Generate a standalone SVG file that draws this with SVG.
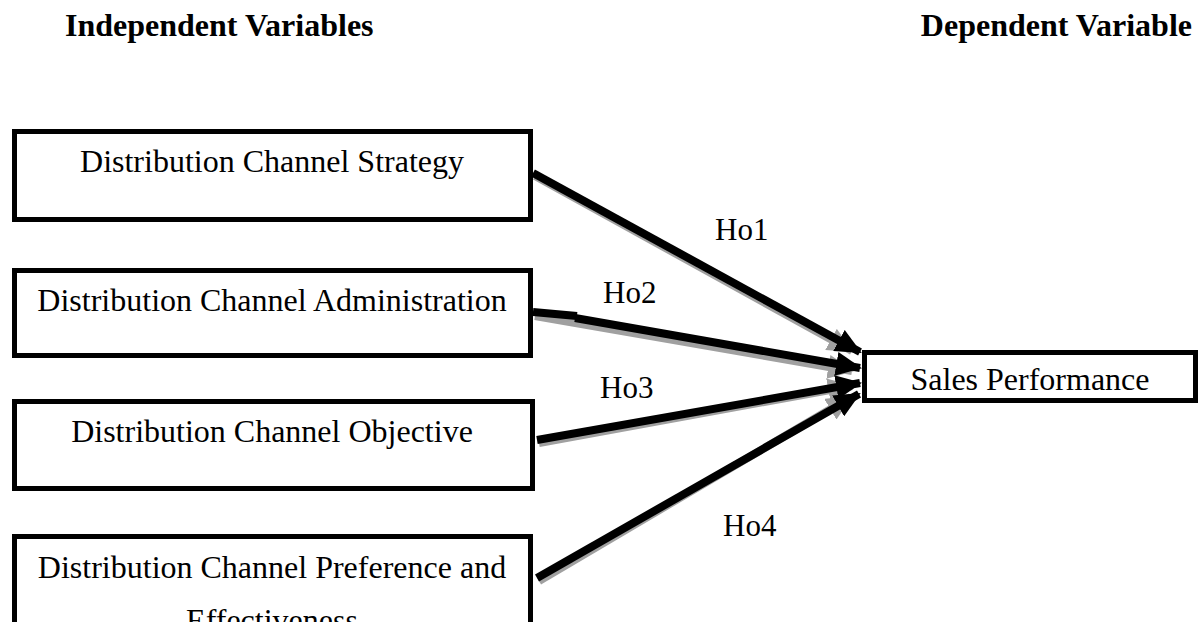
<svg xmlns="http://www.w3.org/2000/svg" width="1199" height="622" viewBox="0 0 1199 622">
<style>
text{font-family:"Liberation Serif","Times New Roman",serif;font-size:32px;fill:#000}
.h{font-weight:bold}
.lb{font-size:31px}
.box{fill:#fff;stroke:#000;stroke-width:5}
.ln{stroke:#000;stroke-width:8;fill:none}
.sh{stroke:#a0a0a0;stroke-width:8;fill:none}
</style>
<defs>
<marker id="ah" markerUnits="userSpaceOnUse" viewBox="0 0 26 24" refX="24" refY="12" markerWidth="26" markerHeight="24" orient="auto"><path d="M0,0 L26,12 L0,24 Z" fill="#000"/></marker>
<marker id="ahs" markerUnits="userSpaceOnUse" viewBox="0 0 26 24" refX="24" refY="12" markerWidth="26" markerHeight="24" orient="auto"><path d="M0,0 L26,12 L0,24 Z" fill="#a0a0a0"/></marker>
</defs>
<g id="headers">
<text class="h" x="65" y="36">Independent Variables</text>
<text class="h" x="1192" y="36" text-anchor="end">Dependent Variable</text>
</g>
<g id="connectors">
<line class="sh" x1="535" y1="176" x2="852" y2="351" marker-end="url(#ahs)"/>
<line class="sh" x1="535" y1="316" x2="852" y2="371" marker-end="url(#ahs)"/>
<line class="sh" x1="539" y1="443" x2="852" y2="386" marker-end="url(#ahs)"/>
<line class="sh" x1="539" y1="581" x2="851" y2="397" marker-end="url(#ahs)"/>
<line class="ln" x1="533" y1="173" x2="860" y2="352" marker-end="url(#ah)"/>
<line class="ln" x1="533" y1="312" x2="577" y2="316"/>
<line class="ln" x1="575" y1="318" x2="860" y2="368" marker-end="url(#ah)"/>
<line class="ln" x1="537" y1="440" x2="860" y2="383" marker-end="url(#ah)"/>
<line class="ln" x1="537" y1="578" x2="859" y2="394" marker-end="url(#ah)"/>
<text class="lb" x="715" y="240">Ho1</text>
<text class="lb" x="603" y="303">Ho2</text>
<text class="lb" x="600" y="398">Ho3</text>
<text class="lb" x="723" y="536">Ho4</text>
</g>
<g id="n1">
<rect class="box" x="14.5" y="131.5" width="516" height="88"/>
<text x="272" y="172" text-anchor="middle">Distribution Channel Strategy</text>
</g>
<g id="n2">
<rect class="box" x="14.5" y="270.5" width="516" height="85"/>
<text x="272" y="311" text-anchor="middle">Distribution Channel Administration</text>
</g>
<g id="n3">
<rect class="box" x="14.5" y="401.5" width="518" height="87"/>
<text x="272" y="442" text-anchor="middle">Distribution Channel Objective</text>
</g>
<g id="n4">
<rect class="box" x="14.5" y="536.5" width="516" height="100"/>
<text x="272" y="578" text-anchor="middle">Distribution Channel Preference and</text>
<text x="272" y="631" text-anchor="middle">Effectiveness</text>
</g>
<g id="n5">
<rect class="box" x="864.5" y="352.5" width="331" height="48"/>
<text x="1030" y="390" text-anchor="middle">Sales Performance</text>
</g>
</svg>
